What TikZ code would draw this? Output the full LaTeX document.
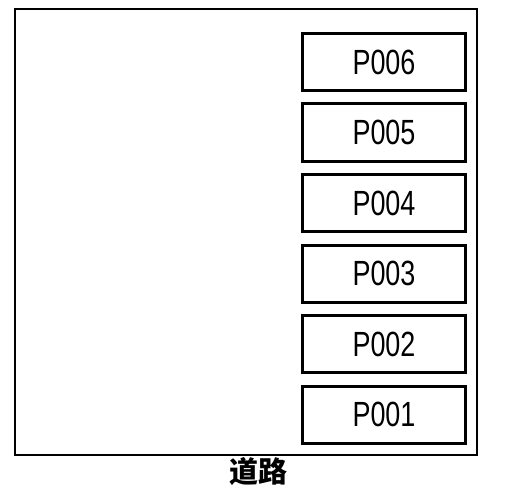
\documentclass[tikz,border=0pt]{standalone}
\usepackage{fontspec}
\setmainfont{Liberation Sans}
\newfontfamily\cjk{Noto Sans CJK SC}
\begin{document}
\begin{tikzpicture}[x=1pt,y=-1pt,
  slot/.style={draw,line width=3pt,minimum width=163pt,minimum height=57pt,inner sep=0pt,
    font=\fontsize{35}{35}\selectfont},
  outer/.style={draw,line width=2pt}]
\useasboundingbox (0,0) rectangle (521,489);
\fill[white] (0,0) rectangle (521,489);
\draw[outer] (15,9) rectangle (477,455);
\foreach \n/\y in {6/62,5/132.5,4/203,3/273.5,2/344,1/414.5}{
  \node[slot] (p\n) at (384,\y) {\scalebox{0.77}[1]{P00\n}};
}
\node[font=\cjk\bfseries\fontsize{29}{29}\selectfont] (road) at (258,472) {道路};
\end{tikzpicture}
\end{document}
